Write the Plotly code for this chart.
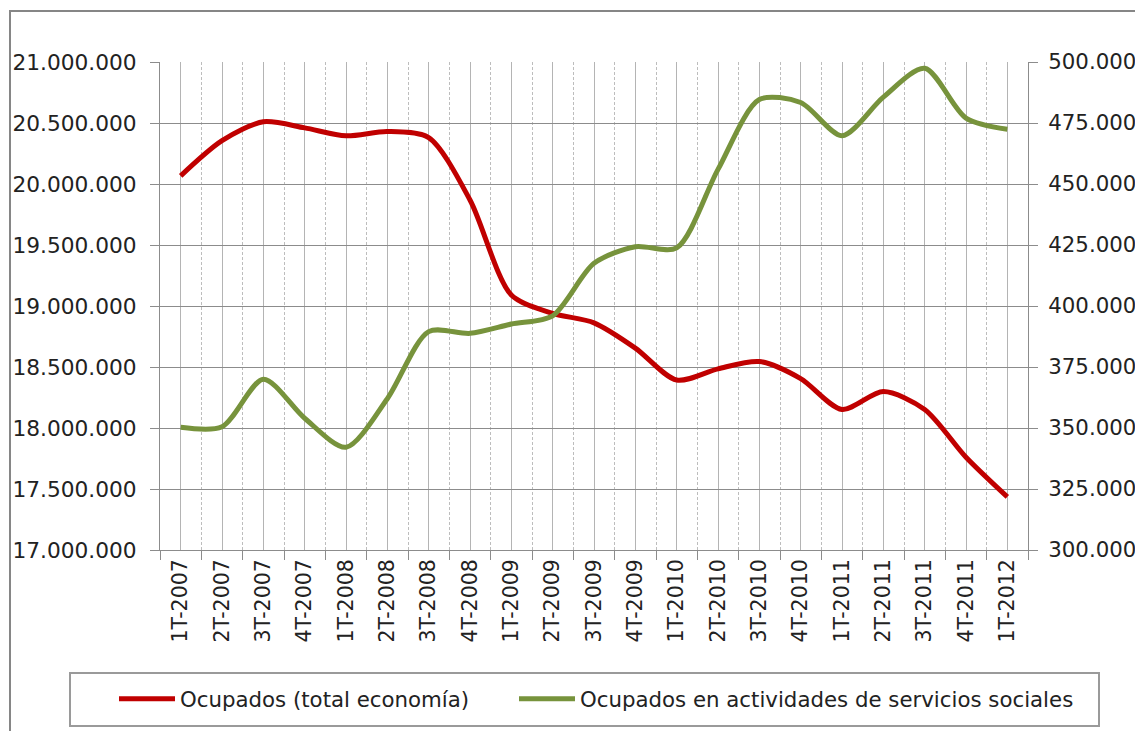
import plotly.graph_objects as go

categories = ['1T-2007', '2T-2007', '3T-2007', '4T-2007', '1T-2008', '2T-2008', '3T-2008',
              '4T-2008', '1T-2009', '2T-2009', '3T-2009', '4T-2009', '1T-2010', '2T-2010',
              '3T-2010', '4T-2010', '1T-2011', '2T-2011', '3T-2011', '4T-2011', '1T-2012']

ocupados_total = [20067000, 20355000, 20510000, 20460000, 20395000, 20430000, 20380000,
                  19869000, 19090000, 18940000, 18862000, 18655000, 18393000, 18485000,
                  18545000, 18405000, 18152000, 18299000, 18152000, 17760000, 17435000]

ocupados_sociales = [350300, 350500, 370000, 354000, 342100, 362000, 389500,
                     388800, 392600, 396000, 417500, 424300, 423800, 456000,
                     484600, 483400, 469800, 485600, 497400, 477000, 472400]

name_total = 'Ocupados (total economía)'
name_sociales = 'Ocupados en actividades de servicios sociales'

x_idx = list(range(len(categories)))

FONT = 'DejaVu Sans'
OFF = 8                      # body margin of the page
W, H = 1143 - OFF, 731 - OFF
# plot area in screen pixels
L, R, T, B = 160, 1028, 62, 550
pw, ph = R - L, B - T


def px_x(p):
    return (p - L) / pw


def px_y(p):
    return (B - p) / ph


fig = go.Figure()
fig.add_trace(go.Scatter(
    x=x_idx, y=ocupados_total, name=name_total, mode='lines',
    line=dict(color='#C00000', width=5, shape='spline', smoothing=0.8),
    yaxis='y', legend='legend'))
fig.add_trace(go.Scatter(
    x=x_idx, y=ocupados_sociales, name=name_sociales, mode='lines',
    line=dict(color='#77933C', width=5, shape='spline', smoothing=0.8),
    yaxis='y2', legend='legend2'))

leg_common = dict(
    orientation='h', xanchor='left', y=px_y(699), yanchor='middle',
    font=dict(family=FONT, size=21.3, color='#222222'),
    bgcolor='rgba(0,0,0,0)', borderwidth=0, itemwidth=56,
)

fig.update_layout(
    width=W, height=H, autosize=False,
    margin=dict(l=L - OFF, r=W - (R - OFF), t=T - OFF, b=H - (B - OFF), pad=0,
                autoexpand=False),
    paper_bgcolor='white', plot_bgcolor='white',
    separators=',.',
    font=dict(family=FONT, size=21.7, color='#222222'),
    xaxis=dict(
        range=[-0.5, len(categories) - 0.5], automargin=False,
        tickmode='array', tickvals=x_idx, ticktext=categories,
        tickangle=-90, tickfont=dict(size=20.5),
        ticks='', showgrid=True, gridcolor='#b4b4b4', gridwidth=1,
        showline=True, linecolor='#8c8c8c', linewidth=1,
        zeroline=False,
        minor=dict(tick0=-0.5, dtick=1, showgrid=True, gridcolor='#bdbdbd',
                   griddash='3px,2px', gridwidth=1,
                   ticks='outside', ticklen=9, tickcolor='#8c8c8c'),
    ),
    yaxis=dict(
        range=[17000000, 21000000], dtick=500000, tick0=17000000, automargin=False,
        tickformat=',d', ticks='outside', ticklen=9, tickcolor='#8c8c8c',
        showgrid=True, gridcolor='#8c8c8c', gridwidth=1,
        showline=True, linecolor='#8c8c8c', linewidth=1, zeroline=False,
        ticklabelstandoff=9,
    ),
    yaxis2=dict(
        range=[300000, 500000], dtick=25000, tick0=300000, automargin=False,
        tickformat=',d', overlaying='y', side='right',
        tickfont=dict(size=21.3),
        ticks='outside', ticklen=9, tickcolor='#8c8c8c',
        showgrid=False, showline=True, linecolor='#8c8c8c', linewidth=1,
        zeroline=False, ticklabelstandoff=6,
    ),
    showlegend=True,
    legend=dict(x=px_x(114), **leg_common),
    legend2=dict(x=px_x(514), **leg_common),
    shapes=[
        dict(type='rect', xref='paper', yref='paper',
             x0=px_x(10), x1=px_x(1200), y0=px_y(800), y1=px_y(11),
             line=dict(color='#868686', width=2), fillcolor='rgba(0,0,0,0)', layer='below'),
        dict(type='rect', xref='paper', yref='paper',
             x0=px_x(70), x1=px_x(1099), y0=px_y(726), y1=px_y(673),
             line=dict(color='#9a9a9a', width=2), fillcolor='rgba(0,0,0,0)', layer='below'),
    ],
)

fig.write_html('out.html', config={'responsive': False})
